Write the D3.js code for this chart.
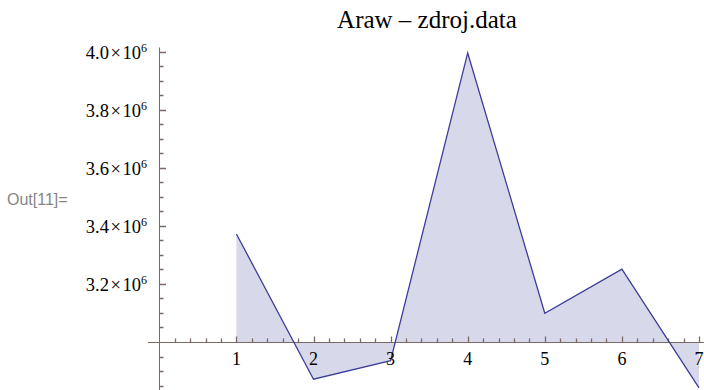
<!DOCTYPE html>
<html>
<head>
<meta charset="utf-8">
<script src="https://cdn.jsdelivr.net/npm/d3@7"></script>
<style>
  html, body { margin: 0; padding: 0; background: #fff; }
  svg { display: block; }
  .serif { font-family: "Liberation Serif", "DejaVu Serif", serif; }
  .sans { font-family: "Liberation Sans", "DejaVu Sans", sans-serif; }
</style>
</head>
<body>
<svg id="chart" width="704" height="390"></svg>
<script>
// Series: Araw − zdroj.data, one value per index
const xValues = [1, 2, 3, 4, 5, 6, 7];
const yValues = [3372000, 2872000, 2936000, 3995000, 3099000, 3251000, 2842000];

// Axis ticks
const xMajorTicks = [1, 2, 3, 4, 5, 6, 7];
const yMajorTicks = [3200000, 3400000, 3600000, 3800000, 4000000];

const titleText = "Araw \u2013 zdroj.data";
const cellLabel = "Out[11]=";

const axisOrigin = 3000000;   // horizontal axis crosses here
const axisColor = "#7a6863";
const lineColor = "#3d3d99";
const fillColor = "rgba(61,61,153,0.2)";

const svg = d3.select("#chart");

const x = d3.scaleLinear().domain([0, 7]).range([159.3, 699]);
const y = d3.scaleLinear().domain([3000000, 4000000]).range([342, 51.5]);

const data = xValues.map((d, i) => ({ x: d, y: yValues[i] }));

// Filled area between the curve and the axis
svg.append("path")
  .datum(data)
  .attr("d", d3.area().x(d => x(d.x)).y0(y(axisOrigin)).y1(d => y(d.y)))
  .attr("fill", fillColor);

const yAxisX = Math.round(x(0)) + 0.5;
const xAxisY = Math.round(y(axisOrigin)) + 0.5;

// Tick positions: x minors every 0.2, y minors every 0.05e6
const xMinor = d3.range(1, 36).map(i => i / 5).filter(v => Math.abs(v - Math.round(v)) > 1e-9);
const yMinor = d3.range(-3, 20).map(i => axisOrigin + i * 50000)
  .filter(v => v % 200000 !== 0 && v !== axisOrigin && y(v) <= 392 && y(v) >= 48);

// Axis lines
svg.append("path")
  .attr("d", `M148,${xAxisY}H704M${yAxisX},47.5V390`)
  .attr("fill", "none")
  .attr("stroke", axisColor)
  .attr("stroke-width", 1);

// Ticks drawn as one path
let d = "";
xMinor.forEach(v => { d += `M${Math.round(x(v)) + 0.5},${xAxisY}v-4`; });
xMajorTicks.forEach(v => { d += `M${Math.round(x(v)) + 0.5},${xAxisY}v-6`; });
yMinor.forEach(v => { d += `M${yAxisX},${Math.round(y(v)) + 0.5}h4`; });
yMajorTicks.forEach(v => { d += `M${yAxisX},${Math.round(y(v)) + 0.5}h6.5`; });
svg.append("path")
  .attr("d", d)
  .attr("fill", "none")
  .attr("stroke", axisColor)
  .attr("stroke-width", 1.3);

// The data line
svg.append("path")
  .datum(data)
  .attr("d", d3.line().x(d => x(d.x)).y(d => y(d.y)))
  .attr("fill", "none")
  .attr("stroke", lineColor)
  .attr("stroke-width", 1.3);

// X tick labels
svg.selectAll(".xlab").data(xMajorTicks).enter().append("text")
  .attr("class", "xlab serif")
  .attr("x", d => x(d))
  .attr("y", y(axisOrigin) + 23)
  .attr("text-anchor", "middle")
  .attr("font-size", 18)
  .text(d => d);

// Y tick labels in a × 10^6 form
const yLab = svg.selectAll(".ylab").data(yMajorTicks).enter().append("text")
  .attr("class", "ylab serif")
  .attr("x", 147)
  .attr("y", d => y(d) + 7)
  .attr("text-anchor", "end")
  .attr("font-size", 18.5);
yLab.append("tspan").text(d => d3.format(".1f")(d / 1e6) + "\u200a\u00d7\u200a10");
yLab.append("tspan").attr("dy", -7).attr("font-size", 12).text("6");

// Title
svg.append("text")
  .attr("class", "serif")
  .attr("x", 427)
  .attr("y", 28)
  .attr("text-anchor", "middle")
  .attr("font-size", 25)
  .text(titleText);

// Output cell label
svg.append("text")
  .attr("class", "sans")
  .attr("x", 7)
  .attr("y", 205)
  .attr("font-size", 16)
  .attr("fill", "#858585")
  .text(cellLabel);
</script>
</body>
</html>
